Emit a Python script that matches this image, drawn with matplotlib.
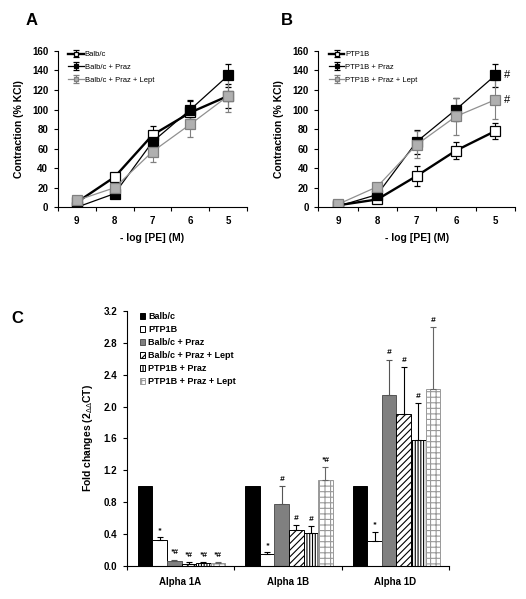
import matplotlib
import numpy as np

matplotlib.use("Agg")

import matplotlib.pyplot as plt

plt.rcParams["font.family"] = ["Liberation Sans", "DejaVu Sans"]
plt.rcParams["hatch.linewidth"] = 0.8

# panels A and B: concentration-response
conc_labels = ["9", "8", "7", "6", "5"]

balb = [5, 31, 74, 97, 114]
balb_err = [2, 4, 9, 12, 12]
balb_praz = [0, 14, 67, 100, 135]
balb_praz_err = [1, 3, 8, 10, 12]
balb_praz_lept = [7, 20, 57, 85, 114]
balb_praz_lept_err = [2, 4, 11, 13, 17]

ptp = [2, 8, 32, 58, 78]
ptp_err = [1, 2, 10, 9, 8]
ptp_praz = [1, 13, 67, 100, 135]
ptp_praz_err = [1, 3, 12, 12, 12]
ptp_praz_lept = [3, 21, 64, 93, 110]
ptp_praz_lept_err = [2, 3, 14, 19, 20]

# panel C: fold changes
receptors = ["Alpha 1A", "Alpha 1B", "Alpha 1D"]
groups = ["Balb/c", "PTP1B", "Balb/c + Praz", "Balb/c + Praz + Lept",
          "PTP1B + Praz", "PTP1B + Praz + Lept"]
fold = [
    [1.0, 1.0, 1.0],
    [0.325, 0.146, 0.32],
    [0.06, 0.775, 2.15],
    [0.03, 0.446, 1.91],
    [0.033, 0.417, 1.575],
    [0.033, 1.083, 2.225],
]
fold_err = [
    [0.0, 0.0, 0.0],
    [0.035, 0.03, 0.11],
    [0.02, 0.225, 0.44],
    [0.02, 0.064, 0.58],
    [0.017, 0.083, 0.465],
    [0.017, 0.157, 0.775],
]
marks = [
    ["", "", ""],
    ["*", "*", "*"],
    ["*#", "#", "#"],
    ["*#", "#", "#"],
    ["*#", "#", "#"],
    ["*#", "*#", "#"],
]

fig = plt.figure(figsize=(5.26, 5.99), dpi=100)


def line_panel(rect, series, legend_labels, hashes=None):
    ax = fig.add_axes(rect)
    x = np.arange(len(conc_labels))
    styles = [
        dict(color="black", lw=1.7, mfc="white", mec="black"),
        dict(color="black", lw=0.9, mfc="black", mec="black"),
        dict(color="#909090", lw=0.9, mfc="#b0b0b0", mec="#808080"),
    ]
    for (vals, errs), st, lab in zip(series, styles, legend_labels):
        ax.errorbar(x, vals, yerr=errs, color=st["color"], lw=st["lw"], marker="s",
                    ms=7.5, mfc=st["mfc"], mec=st["mec"], mew=0.9, ecolor=st["mec"],
                    elinewidth=0.8, capsize=2, label=lab)
    if hashes:
        for xi, yi in hashes:
            ax.text(xi, yi, "#", fontsize=8, ha="left", va="center")
    ax.set_xlim(-0.5, 4.5)
    ax.set_ylim(0, 160)
    ax.set_yticks(range(0, 161, 20))
    ax.set_xticks(x)
    ax.set_xticklabels(conc_labels, fontweight="bold", fontsize=7)
    ax.set_xticks(np.arange(-0.5, 5, 1), minor=True)
    ax.tick_params(axis="x", which="major", length=0, pad=6)
    ax.tick_params(axis="x", which="minor", length=3, width=0.8, direction="out")
    ax.tick_params(axis="y", length=3, width=0.8, labelsize=7, pad=4)
    for lab in ax.get_yticklabels():
        lab.set_fontweight("bold")
    ax.spines["top"].set_visible(False)
    ax.spines["right"].set_visible(False)
    ax.set_ylabel("Contraction (% KCl)", fontweight="bold", fontsize=7.5, labelpad=6)
    ax.set_xlabel("- log [PE] (M)", fontweight="bold", fontsize=7.5, labelpad=5)
    ax.legend(loc="upper left", bbox_to_anchor=(0.04, 1.02), frameon=False,
              fontsize=5.5, handlelength=2.0, markerscale=0.45,
              labelspacing=0.7, handletextpad=0.1, borderaxespad=0)
    return ax


ax_a = line_panel([0.110, 0.654, 0.360, 0.261],
                  [(balb, balb_err), (balb_praz, balb_praz_err),
                   (balb_praz_lept, balb_praz_lept_err)],
                  ["Balb/c", "Balb/c + Praz", "Balb/c + Praz + Lept"])
ax_b = line_panel([0.605, 0.654, 0.374, 0.261],
                  [(ptp, ptp_err), (ptp_praz, ptp_praz_err),
                   (ptp_praz_lept, ptp_praz_lept_err)],
                  ["PTP1B", "PTP1B + Praz", "PTP1B + Praz + Lept"],
                  hashes=[(4.22, ptp_praz[4]), (4.22, ptp_praz_lept[4])])

fig.text(0.048, 0.965, "A", fontsize=12, fontweight="bold", va="center")
fig.text(0.534, 0.965, "B", fontsize=12, fontweight="bold", va="center")
fig.text(0.021, 0.469, "C", fontsize=12, fontweight="bold", va="center")

# panel C
ax_c = fig.add_axes([0.241, 0.055, 0.613, 0.426])
bar_w = 0.1355
left0 = -0.5 + 0.103
faces = ["black", "white", "#808080", "white", "white", "white"]
hatches = [None, None, None, "/////", "||||||", "+++"]
hatch_cols = ["black", "black", "#555555", "black", "black", "#999999"]
err_cols = ["black", "black", "#555555", "black", "black", "#666666"]
xg = np.arange(len(receptors))
for i, name in enumerate(groups):
    xs = xg + left0 + bar_w * (i + 0.5)
    ax_c.bar(xs, fold[i], width=bar_w, color=faces[i], edgecolor=hatch_cols[i],
             hatch=hatches[i], linewidth=0.7, label=name)
    if i > 0:
        ax_c.errorbar(xs, fold[i], yerr=[np.zeros(3), fold_err[i]], fmt="none",
                      ecolor=err_cols[i], elinewidth=0.8, capsize=2, capthick=0.8)
    for j in range(3):
        if marks[i][j]:
            ax_c.text(xs[j], fold[i][j] + fold_err[i][j] + 0.04, marks[i][j],
                      ha="center", va="bottom", fontsize=6, fontweight="bold",
                      fontstyle="italic")

ax_c.set_xlim(-0.5, 2.5)
ax_c.set_ylim(0, 3.2)
ax_c.set_yticks(np.arange(0, 3.21, 0.4))
ax_c.set_yticklabels([f"{v:.1f}" for v in np.arange(0, 3.21, 0.4)],
                     fontweight="bold", fontsize=7)
ax_c.set_xticks(xg)
ax_c.set_xticklabels(receptors, fontweight="bold", fontsize=7)
ax_c.set_xticks(np.arange(-0.5, 3, 1), minor=True)
ax_c.tick_params(axis="x", which="major", length=0, pad=8)
ax_c.tick_params(axis="x", which="minor", length=3, width=0.8, direction="out")
ax_c.tick_params(axis="y", length=3, width=0.8, pad=4)
ax_c.spines["top"].set_visible(False)
ax_c.spines["right"].set_visible(False)
ax_c.set_ylabel("Fold changes (2$_{\\Delta\\Delta}$CT)", fontweight="bold", fontsize=7.5,
                labelpad=6)
ax_c.legend(loc="upper left", bbox_to_anchor=(0.03, 1.01), frameon=False,
            prop={"size": 6.5, "weight": "bold"}, handlelength=0.6,
            handleheight=0.6, labelspacing=0.45, handletextpad=0.3,
            borderaxespad=0)

fig.savefig("out.png", dpi=100)
plt.close(fig)
